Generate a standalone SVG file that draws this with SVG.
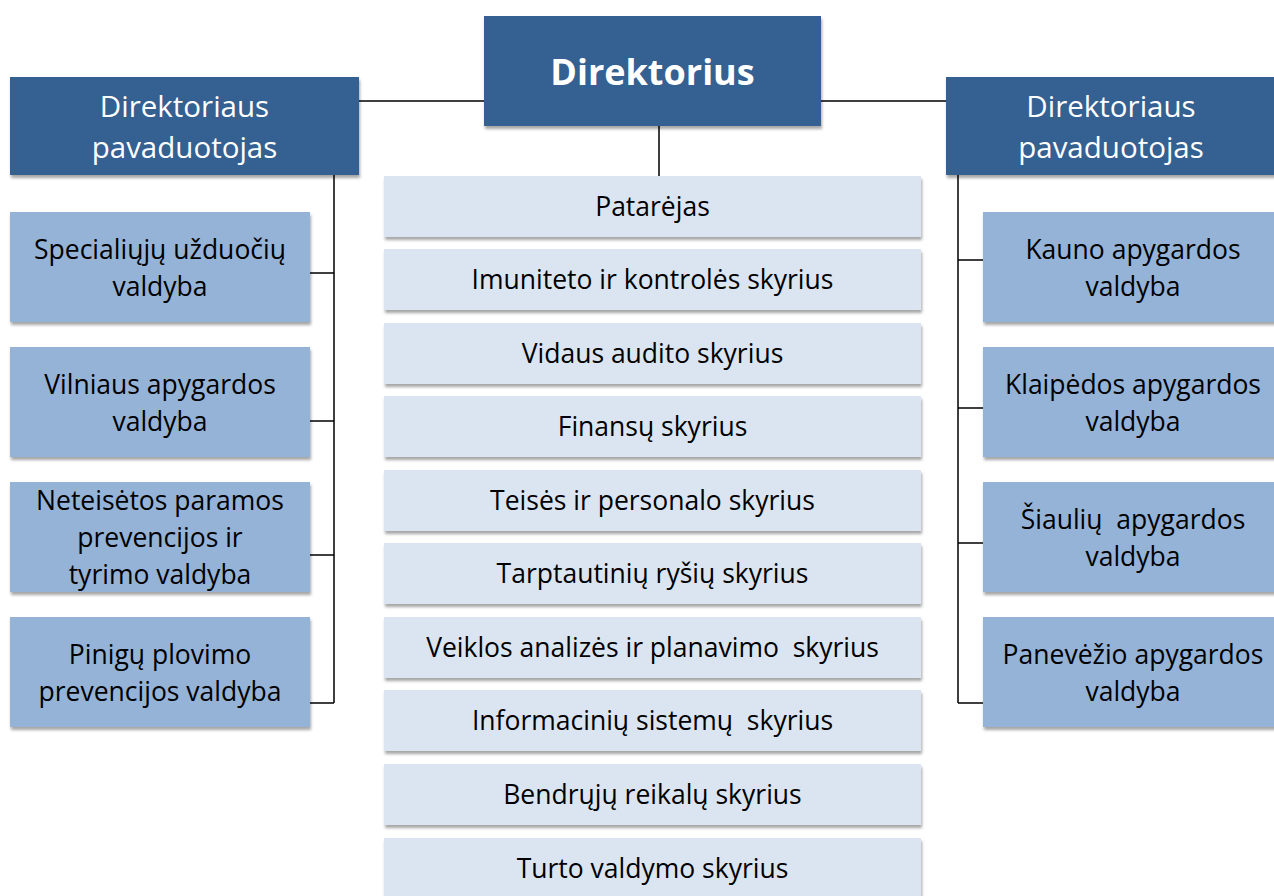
<svg xmlns="http://www.w3.org/2000/svg" width="1274" height="896" viewBox="0 0 1274 896">
<defs>
<filter id="sh" x="-5%" y="-10%" width="110%" height="130%">
<feDropShadow dx="1" dy="3" stdDeviation="1.8" flood-color="#000" flood-opacity="0.35"/>
</filter>
<style>
.dark{fill:#366092;filter:url(#sh)}
.mid{fill:#95b3d7;filter:url(#sh)}
.light{fill:#dbe5f1;filter:url(#sh)}
text{font-family:"Open Sans",Lato,"Liberation Sans",sans-serif;text-anchor:middle;white-space:pre}
.t{font-size:26.5px;fill:#000}
.w{font-size:29.5px;fill:#fff}
.b{font-size:36px;fill:#fff;font-weight:bold}
.ln{stroke:#000;stroke-width:1.5;fill:none}
</style>
</defs>
<rect width="1274" height="896" fill="#fff"/>
<g id="connectors">
<path class="ln" d="M359 101H484M821 101H946M659 126V176"/>
<path class="ln" d="M334 175V703M310 273H334M310 421H334M310 555H334M310 703H334"/>
<path class="ln" d="M958 175V703M958 260H983M958 408H983M958 543H983M958 703H983"/>
</g>
<g id="director"><rect class="dark" x="484" y="16" width="337" height="110"/><text class="b" x="652.5" y="85">Direktorius</text></g>
<g id="deputy-left"><rect class="dark" x="10" y="77" width="349" height="98"/><text class="w" x="184.5" y="117">Direktoriaus</text><text class="w" x="184.5" y="158">pavaduotojas</text></g>
<g id="deputy-right"><rect class="dark" x="946" y="77" width="340" height="98"/><text class="w" x="1111" y="117">Direktoriaus</text><text class="w" x="1111" y="158">pavaduotojas</text></g>
<g id="l1"><rect class="mid" x="10" y="212" width="300" height="110"/><text class="t" x="160" y="259">Specialiųjų užduočių</text><text class="t" x="160" y="296">valdyba</text></g>
<g id="l2"><rect class="mid" x="10" y="347" width="300" height="110"/><text class="t" x="160" y="394">Vilniaus apygardos</text><text class="t" x="160" y="431">valdyba</text></g>
<g id="l3"><rect class="mid" x="10" y="482" width="300" height="110"/><text class="t" x="160" y="510">Neteisėtos paramos</text><text class="t" x="160" y="547">prevencijos ir</text><text class="t" x="160" y="584">tyrimo valdyba</text></g>
<g id="l4"><rect class="mid" x="10" y="617" width="300" height="110"/><text class="t" x="160" y="664">Pinigų plovimo</text><text class="t" x="160" y="701">prevencijos valdyba</text></g>
<g id="r1"><rect class="mid" x="983" y="212" width="300" height="110"/><text class="t" x="1133" y="259">Kauno apygardos</text><text class="t" x="1133" y="296">valdyba</text></g>
<g id="r2"><rect class="mid" x="983" y="347" width="300" height="110"/><text class="t" x="1133" y="394">Klaipėdos apygardos</text><text class="t" x="1133" y="431">valdyba</text></g>
<g id="r3"><rect class="mid" x="983" y="482" width="300" height="110"/><text class="t" x="1133" y="529">Šiaulių  apygardos</text><text class="t" x="1133" y="566">valdyba</text></g>
<g id="r4"><rect class="mid" x="983" y="617" width="300" height="110"/><text class="t" x="1133" y="664">Panevėžio apygardos</text><text class="t" x="1133" y="701">valdyba</text></g>
<g id="c1"><rect class="light" x="384" y="176" width="537" height="61"/><text class="t" x="652.5" y="216">Patarėjas</text></g>
<g id="c2"><rect class="light" x="384" y="249" width="537" height="61"/><text class="t" x="652.5" y="289">Imuniteto ir kontrolės skyrius</text></g>
<g id="c3"><rect class="light" x="384" y="323" width="537" height="61"/><text class="t" x="652.5" y="363">Vidaus audito skyrius</text></g>
<g id="c4"><rect class="light" x="384" y="396" width="537" height="61"/><text class="t" x="652.5" y="436">Finansų skyrius</text></g>
<g id="c5"><rect class="light" x="384" y="470" width="537" height="61"/><text class="t" x="652.5" y="510">Teisės ir personalo skyrius</text></g>
<g id="c6"><rect class="light" x="384" y="543" width="537" height="61"/><text class="t" x="652.5" y="583">Tarptautinių ryšių skyrius</text></g>
<g id="c7"><rect class="light" x="384" y="617" width="537" height="61"/><text class="t" x="652.5" y="657">Veiklos analizės ir planavimo  skyrius</text></g>
<g id="c8"><rect class="light" x="384" y="690" width="537" height="61"/><text class="t" x="652.5" y="730">Informacinių sistemų  skyrius</text></g>
<g id="c9"><rect class="light" x="384" y="764" width="537" height="61"/><text class="t" x="652.5" y="804">Bendrųjų reikalų skyrius</text></g>
<g id="c10"><rect class="light" x="384" y="838" width="537" height="61"/><text class="t" x="652.5" y="878">Turto valdymo skyrius</text></g>
</svg>
